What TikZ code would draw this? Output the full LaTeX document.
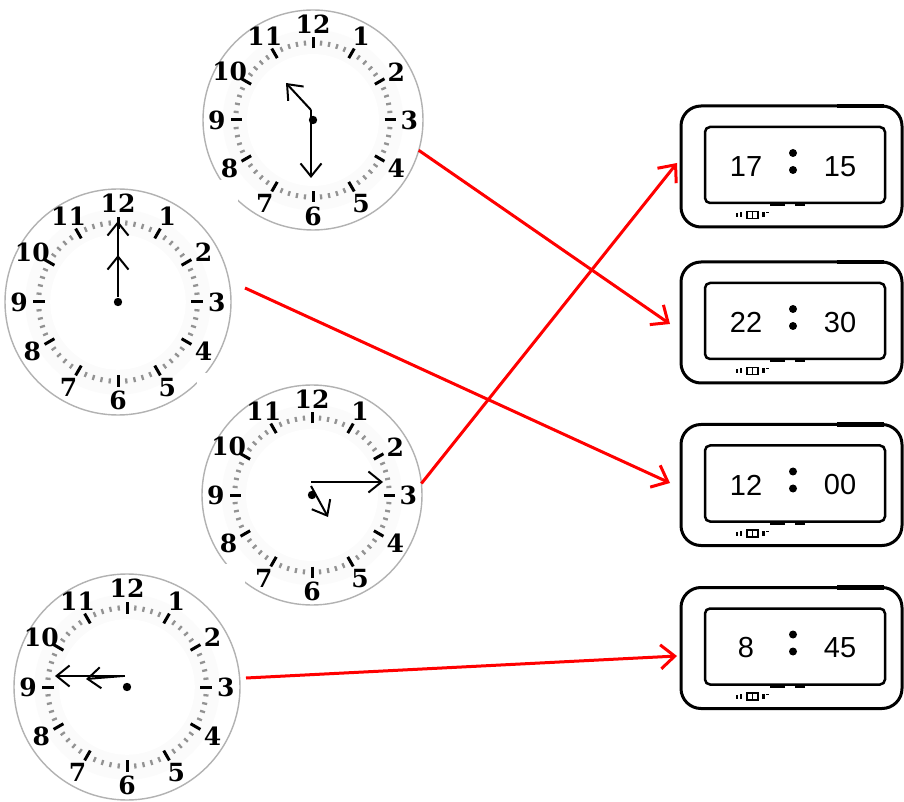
\documentclass[tikz,border=0pt]{standalone}
\usepackage{fontspec}
\newfontfamily\digfont{Liberation Sans}
\newfontfamily\numfont{DejaVu Serif}
\usetikzlibrary{arrows.meta,calc}
\tikzset{
 clockbody/.style={circle, draw=gray!60, line width=1.4pt, fill=white, inner sep=0pt, outer sep=0pt},
 minutedot/.style={draw=gray!85, line width=2.3pt},
 hourtick/.style={draw=black, line width=3pt},
 clocknum/.style={font=\numfont\bfseries\fontsize{25}{25}\selectfont, inner sep=0pt},
 hand/.style={draw=black, line width=2pt, -{Straight Barb[length=13pt,width=21pt]}},
 digouter/.style={draw=black, line width=3pt, rounded corners=20pt, minimum width=221pt, minimum height=121pt, inner sep=0pt, outer sep=0pt},
 diginner/.style={draw=black, line width=2.5pt, rounded corners=5pt, minimum width=180pt, minimum height=76pt, inner sep=0pt, outer sep=0pt},
 digtext/.style={font=\digfont\fontsize{29}{29}\selectfont, inner sep=0pt},
 link/.style={draw=red, line width=3pt, -{Straight Barb[length=14pt,width=24pt]}},
 cover/.style={fill=white, draw=none},
}
\newcommand\drawclock[4]{%
 \node[clockbody, minimum size={2*#4pt}] (#1) at (#2,#3) {};
 \begin{scope}[shift={(#2,#3)}]
  \fill[gray!3] (0,0) circle[radius={0.82*#4pt}];
  \fill[white] (0,0) circle[radius={0.6*#4pt}];
  \foreach \a in {0,6,...,354} \draw[minutedot] (\a:{0.68*#4}) -- (\a:{0.725*#4});
  \foreach \a in {0,30,...,330} \draw[hourtick] (\a:{0.65*#4}) -- (\a:{0.75*#4});
  \foreach \n in {1,...,12} \node[clocknum] (#1n\n) at ({90-30*\n}:{0.875*#4}) {\n};
  \fill (0,0) circle[radius=4.2pt];
 \end{scope}}
\newcommand\drawdigital[4]{%
 \node[digouter] (#1) at (791.5,#2) {};
 \node[diginner] (#1i) at (795,{#2+1.5}) {};
 \draw[line width=4.5pt] (837,{#2+60.5}) -- (884,{#2+60.5});
 \node[digtext] (#1h) at (746,#2) {#3};
 \node[digtext] (#1m) at (840,#2) {#4};
 \fill (793,{#2+13.5}) circle[radius=4pt];
 \fill (793,{#2-3.5}) circle[radius=4pt];
 \fill (770,{#2-40}) rectangle (785,{#2-37});
 \fill (795,{#2-40}) rectangle (805,{#2-37});
 \draw[line width=1.3pt] (747,{#2-52}) rectangle (758,{#2-45});
 \draw[line width=1.3pt] (752.5,{#2-52}) -- (752.5,{#2-45});
 \fill (736,{#2-51}) rectangle (738,{#2-47});
 \fill (740,{#2-51}) rectangle (742,{#2-46});
 \fill (762,{#2-51}) rectangle (764.5,{#2-46});
 \fill (766,{#2-47}) rectangle (768.5,{#2-46});
}
\begin{document}
\begin{tikzpicture}[x=1pt,y=1pt]
\useasboundingbox (0,0) rectangle (904,801);
\fill[white] (0,0) rectangle (904,801);

\drawclock{c1}{313}{681}{110}
\draw[hand] (311,691) -- (311,623);
\draw[hand] (311,691) -- (286,718);
\fill[cover] (0,381) rectangle (238,621);

\drawclock{c2}{118}{499}{113}
\draw[hand] (118,504) -- (118,580);
\draw[hand] (118,504) -- (118,546);
\fill[cover] (197,201) rectangle (430,428);

\drawclock{c3}{312}{306}{110}
\draw[hand] (311,319) -- (383,319);
\draw[hand] (311,315) -- (328,284);
\fill[cover] (0,0) rectangle (245,237);

\drawclock{c4}{127}{114}{113}
\draw[hand] (125,125) -- (55,125);
\draw[hand] (123,125) -- (86,122);

\drawdigital{d1}{634.5}{17}{15}
\drawdigital{d2}{478.5}{22}{30}
\drawdigital{d3}{316}{12}{00}
\drawdigital{d4}{153}{8}{45}

\coordinate (a1e) at ($(d2.west)+(-11,-1.5)$);
\draw[link] (c1.-16.5) -- (a1e);
\coordinate (a2s) at ($(c2.east)+(14,14)$);
\coordinate (a2e) at ($(d3.west)+(-11,2)$);
\draw[link] (a2s) -- (a2e);
\coordinate (a3e) at ($(d1.west)+(-4,3.5)$);
\draw[link] (c3.6.7) -- (a3e);
\coordinate (a4s) at ($(c4.east)+(6,9)$);
\coordinate (a4e) at ($(d4.west)+(-4,-8)$);
\draw[link] (a4s) -- (a4e);
\end{tikzpicture}
\end{document}
